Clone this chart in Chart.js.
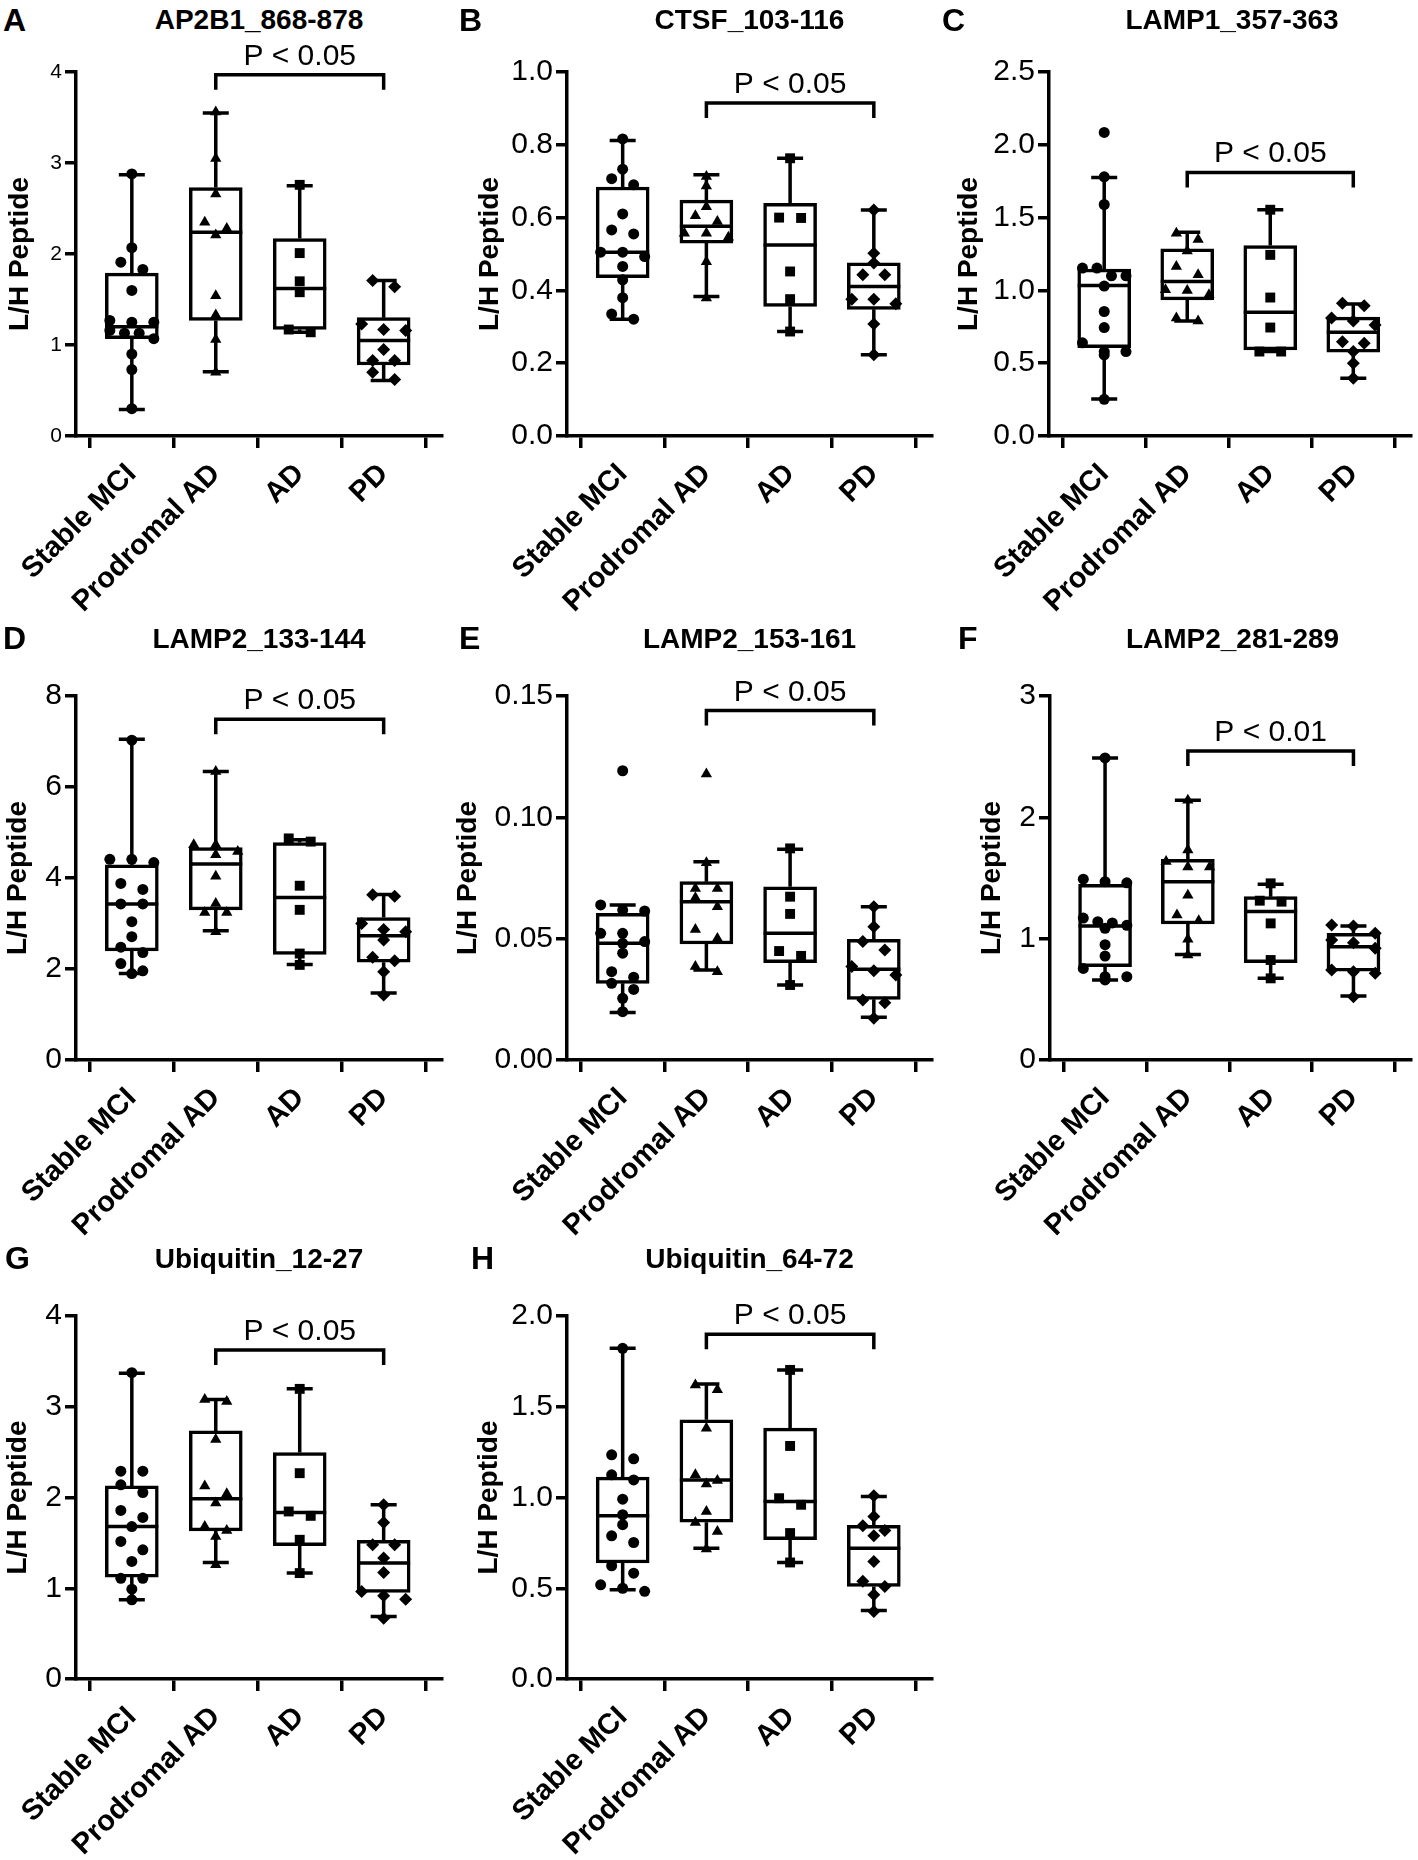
<!DOCTYPE html>
<html lang="en">
<head>
<meta charset="UTF-8">
<title>L/H Peptide ratios by diagnosis</title>
<script src="https://cdn.jsdelivr.net/npm/chart.js@4.4.0/dist/chart.umd.min.js"></script>
<style>
    * { margin: 0; padding: 0; box-sizing: border-box; }
    body { background: #fff; font-family: "Liberation Sans", Arial, sans-serif; color: #000; }
    #figure { position: relative; width: 1418px; height: 1860px; overflow: hidden; background: #fff; }
    .panel-canvas { position: absolute; }
    .panel-letter { position: absolute; font-size: 32px; font-weight: bold; line-height: 1.2; }
    .panel-title { position: absolute; font-size: 28px; font-weight: bold; line-height: 1.2; text-align: center; white-space: nowrap; }
</style>
</head>
<body>
<div id="figure"></div>

<script>
    // ---- Data ----
    const groupLabels = ['Stable MCI', 'Prodromal AD', 'AD', 'PD'];
    const panelLetters = ['A', 'B', 'C', 'D', 'E', 'F', 'G', 'H'];
    const panelTitles = ['AP2B1_868-878', 'CTSF_103-116', 'LAMP1_357-363', 'LAMP2_133-144',
        'LAMP2_153-161', 'LAMP2_281-289', 'Ubiquitin_12-27', 'Ubiquitin_64-72'];
    const yMax = [4, 1.0, 2.5, 8, 0.15, 3, 4, 2.0];
    const yStep = [1, 0.2, 0.5, 2, 0.05, 1, 1, 0.5];
    const yDecimals = [0, 1, 1, 0, 2, 0, 0, 1];
    const pTexts = ['P < 0.05', 'P < 0.05', 'P < 0.05', 'P < 0.05', 'P < 0.05', 'P < 0.01', 'P < 0.05', 'P < 0.05'];
    const bracketY = [3.97, 0.915, 1.81, 7.49, 0.144, 2.547, 3.626, 1.899];
    const bracketFrom = 1;   // Prodromal AD
    const bracketTo = 3;     // PD

    // points per group: Stable MCI, Prodromal AD, AD, PD
    const ap2b1Points = [
        [2.88, 2.07, 1.91, 1.83, 1.60, 1.27, 1.25, 1.25, 1.16, 1.13, 1.13, 1.07, 0.90, 0.73, 0.30],
        [3.56, 3.05, 2.66, 2.35, 2.28, 2.21, 1.54, 1.33, 1.06, 0.70],
        [2.76, 2.01, 1.70, 1.58, 1.17, 1.14],
        [1.71, 1.64, 1.23, 1.17, 1.16, 0.95, 0.83, 0.83, 0.70, 0.62]
    ];
    const ctsfPoints = [
        [0.816, 0.733, 0.707, 0.69, 0.61, 0.566, 0.555, 0.505, 0.505, 0.493, 0.466, 0.429, 0.38, 0.335, 0.321],
        [0.713, 0.687, 0.63, 0.605, 0.589, 0.557, 0.557, 0.546, 0.479, 0.379],
        [0.763, 0.60, 0.599, 0.452, 0.376, 0.287],
        [0.621, 0.502, 0.475, 0.443, 0.443, 0.376, 0.376, 0.363, 0.308, 0.223]
    ];
    const lamp1Points = [
        [2.085, 1.78, 1.59, 1.153, 1.153, 1.10, 1.10, 1.03, 0.855, 0.745, 0.64, 0.58, 0.58, 0.557, 0.252],
        [1.393, 1.35, 1.27, 1.164, 1.107, 1.004, 1.0, 0.97, 0.81, 0.79],
        [1.554, 1.244, 0.951, 0.745, 0.58, 0.58],
        [0.912, 0.894, 0.81, 0.79, 0.763, 0.648, 0.637, 0.58, 0.50, 0.396]
    ];
    const lamp2aPoints = [
        [7.03, 4.41, 4.41, 4.34, 3.88, 3.75, 3.43, 3.43, 3.04, 2.71, 2.48, 2.36, 2.12, 1.96, 1.90],
        [6.34, 4.73, 4.73, 4.58, 4.51, 4.04, 3.44, 3.24, 3.24, 2.82],
        [4.87, 4.80, 3.83, 3.30, 2.34, 2.09],
        [3.63, 3.60, 3.0, 2.87, 2.82, 2.64, 2.26, 2.18, 1.94, 1.43]
    ];
    const lamp2bPoints = [
        [0.1192, 0.0639, 0.0618, 0.0614, 0.0522, 0.0522, 0.0488, 0.0481, 0.044, 0.0364, 0.0341, 0.0316, 0.0291, 0.0254, 0.0199],
        [0.1179, 0.0813, 0.0707, 0.0707, 0.0669, 0.0632, 0.0538, 0.0501, 0.0385, 0.0364],
        [0.0872, 0.0673, 0.0602, 0.0449, 0.0429, 0.0309],
        [0.0632, 0.0549, 0.0488, 0.0453, 0.0385, 0.0368, 0.035, 0.0247, 0.0236, 0.0172]
    ];
    const lamp2cPoints = [
        [2.49, 1.49, 1.47, 1.46, 1.17, 1.14, 1.13, 1.11, 1.085, 0.95, 0.857, 0.755, 0.687, 0.687, 0.66],
        [2.14, 1.73, 1.635, 1.59, 1.59, 1.357, 1.195, 1.148, 0.995, 0.865],
        [1.456, 1.313, 1.305, 1.126, 0.824, 0.673],
        [1.113, 1.104, 1.044, 0.989, 0.967, 0.92, 0.742, 0.728, 0.714, 0.522]
    ];
    const ubiqAPoints = [
        [3.376, 2.29, 2.29, 2.14, 2.055, 1.857, 1.78, 1.68, 1.516, 1.424, 1.295, 1.11, 1.11, 0.99, 0.873],
        [3.08, 3.057, 2.64, 2.128, 2.04, 1.94, 1.68, 1.637, 1.57, 1.26],
        [3.197, 2.268, 1.846, 1.798, 1.534, 1.167],
        [1.919, 1.725, 1.479, 1.479, 1.332, 1.174, 0.965, 0.917, 0.88, 0.67]
    ];
    const ubiqBPoints = [
        [1.822, 1.235, 1.213, 1.125, 1.097, 0.991, 0.905, 0.85, 0.789, 0.752, 0.624, 0.583, 0.519, 0.50, 0.483],
        [1.62, 1.593, 1.382, 1.125, 1.094, 1.075, 0.923, 0.862, 0.813, 0.716],
        [1.703, 1.284, 0.996, 0.96, 0.804, 0.642],
        [1.009, 0.895, 0.844, 0.818, 0.789, 0.648, 0.538, 0.51, 0.464, 0.372]
    ];

    // box stats per group: [whisker low, Q1, median, Q3, whisker high]
    const ap2b1Boxes = [[0.29, 1.07, 1.20, 1.79, 2.87], [0.705, 1.27, 2.24, 2.73, 3.55], [1.14, 1.17, 1.62, 2.17, 2.75], [0.61, 0.78, 1.05, 1.30, 1.71]];
    const ctsfBoxes = [[0.321, 0.435, 0.505, 0.684, 0.812], [0.383, 0.53, 0.576, 0.648, 0.718], [0.287, 0.356, 0.525, 0.639, 0.763], [0.223, 0.348, 0.411, 0.476, 0.621]];
    const lamp1Boxes = [[0.254, 0.607, 1.033, 1.146, 1.776], [0.79, 0.935, 1.061, 1.285, 1.40], [0.58, 0.591, 0.85, 1.308, 1.554], [0.396, 0.575, 0.713, 0.816, 0.907]];
    const lamp2aBoxes = [[1.90, 2.40, 3.43, 4.29, 7.05], [2.84, 3.30, 4.31, 4.67, 6.34], [2.10, 2.32, 3.57, 4.78, 4.84], [1.47, 2.15, 2.73, 3.13, 3.64]];
    const lamp2bBoxes = [[0.0196, 0.0316, 0.0481, 0.0604, 0.0639], [0.0371, 0.0478, 0.0652, 0.0735, 0.0817], [0.0309, 0.0401, 0.0522, 0.0714, 0.0868], [0.0176, 0.025, 0.0374, 0.0497, 0.0632]];
    const lamp2cBoxes = [[0.66, 0.769, 1.104, 1.448, 2.49], [0.87, 1.121, 1.47, 1.654, 2.14], [0.673, 0.802, 1.223, 1.346, 1.448], [0.527, 0.733, 0.934, 1.044, 1.104]];
    const ubiqABoxes = [[0.873, 1.123, 1.68, 2.128, 3.37], [1.284, 1.633, 1.985, 2.734, 3.08], [1.167, 1.468, 1.835, 2.495, 3.197], [0.69, 0.954, 1.277, 1.527, 1.919]];
    const ubiqBBoxes = [[0.492, 0.639, 0.899, 1.112, 1.822], [0.721, 0.864, 1.097, 1.428, 1.626], [0.642, 0.767, 0.978, 1.382, 1.703], [0.378, 0.51, 0.721, 0.846, 1.006]];

    const panelPoints = [ap2b1Points, ctsfPoints, lamp1Points, lamp2aPoints, lamp2bPoints, lamp2cPoints, ubiqAPoints, ubiqBPoints];
    const panelBoxes = [ap2b1Boxes, ctsfBoxes, lamp1Boxes, lamp2aBoxes, lamp2bBoxes, lamp2cBoxes, ubiqABoxes, ubiqBBoxes];

    // ---- Layout (page pixels) ----
    const FONT = '"Liberation Sans", Arial, sans-serif';
    const X_MIN = -0.665, X_MAX = 3.695;
    const BOX_WIDTH = 53, CAP_WIDTH = 26, LINE = 3.5;
    const markerStyles = ['circle', 'triangle', 'rect', 'rectRot'];
    const markerRadius = [5.5, 6.5, 7, 6.5];

    // area = [left, top, right, bottom] of the plot area
    const layoutBoxes = [
        { cellX: 0, cellY: 0, cellR: 470, area: [76, 72, 442, 436], yTitleX: 20, letterX: 3, tickSize: 21 },
        { cellX: 470, cellY: 0, cellR: 950, area: [567, 72, 932, 436], yTitleX: 490, letterX: 459, tickSize: 30 },
        { cellX: 950, cellY: 0, cellR: 1418, area: [1049, 72, 1415, 436], yTitleX: 969, letterX: 942, tickSize: 30 },
        { cellX: 0, cellY: 620, cellR: 470, area: [76, 696, 442, 1060], yTitleX: 18, letterX: 3, tickSize: 30 },
        { cellX: 470, cellY: 620, cellR: 950, area: [567, 696, 932, 1060], yTitleX: 468, letterX: 459, tickSize: 30 },
        { cellX: 950, cellY: 620, cellR: 1418, area: [1050, 696, 1415, 1060], yTitleX: 992, letterX: 958, tickSize: 30 },
        { cellX: 0, cellY: 1240, cellR: 470, area: [76, 1316, 442, 1679], yTitleX: 18, letterX: 5, tickSize: 30 },
        { cellX: 470, cellY: 1240, cellR: 950, area: [567, 1316, 932, 1679], yTitleX: 489, letterX: 471, tickSize: 30 }
    ];

    Chart.defaults.font.family = FONT;
    Chart.defaults.color = '#000';
    Chart.defaults.animation = false;

    // Spread points sideways within rows of similar value (GraphPad-like scatter)
    function swarm(values, group, pxPerY, pxPerX) {
        const sorted = values.slice().sort((a, b) => b - a);
        const rows = [];
        sorted.forEach(v => {
            const row = rows[rows.length - 1];
            if (row && (row[0] - v) * pxPerY < 9) row.push(v);
            else rows.push([v]);
        });
        const out = [];
        rows.forEach(row => {
            const n = row.length;
            const step = n > 1 ? Math.min(22, 44 / (n - 1)) : 0;
            row.forEach((v, k) => {
                out.push({ x: group + ((k - (n - 1) / 2) * step) / pxPerX, y: v });
            });
        });
        return out;
    }

    // Whiskers, caps and median, drawn right after the box bars
    const boxPlugin = {
        id: 'boxWhiskers',
        afterDatasetDraw(chart, args) {
            const ds = chart.data.datasets[args.index];
            if (!ds.boxStats) return;
            const { ctx, scales: { x, y } } = chart;
            ctx.save();
            ctx.strokeStyle = '#000';
            ctx.lineWidth = LINE;
            ds.boxStats.forEach((b, i) => {
                const cx = x.getPixelForValue(i);
                const [lo, q1, med, q3, hi] = b.map(v => y.getPixelForValue(v));
                ctx.beginPath();
                ctx.moveTo(cx, q3); ctx.lineTo(cx, hi);
                ctx.moveTo(cx - CAP_WIDTH / 2, hi); ctx.lineTo(cx + CAP_WIDTH / 2, hi);
                ctx.moveTo(cx, q1); ctx.lineTo(cx, lo);
                ctx.moveTo(cx - CAP_WIDTH / 2, lo); ctx.lineTo(cx + CAP_WIDTH / 2, lo);
                ctx.moveTo(cx - BOX_WIDTH / 2, med); ctx.lineTo(cx + BOX_WIDTH / 2, med);
                ctx.stroke();
            });
            ctx.restore();
        }
    };

    // Significance bracket with its P label
    const bracketPlugin = {
        id: 'pBracket',
        afterDraw(chart, args, opts) {
            if (!opts.text) return;
            const { ctx, scales: { x, y } } = chart;
            const x1 = x.getPixelForValue(opts.from);
            const x2 = x.getPixelForValue(opts.to);
            const yb = y.getPixelForValue(opts.value);
            ctx.save();
            ctx.strokeStyle = '#000';
            ctx.lineWidth = LINE;
            ctx.lineJoin = 'miter';
            ctx.beginPath();
            ctx.moveTo(x1, yb + 15);
            ctx.lineTo(x1, yb);
            ctx.lineTo(x2, yb);
            ctx.lineTo(x2, yb + 15);
            ctx.stroke();
            ctx.fillStyle = '#000';
            ctx.font = '30px ' + FONT;
            ctx.textAlign = 'center';
            ctx.textBaseline = 'alphabetic';
            ctx.fillText(opts.text, (x1 + x2) / 2, yb - 10);
            ctx.restore();
        }
    };

    function buildPanel(p) {
        const fig = document.getElementById('figure');
        const lay = layoutBoxes[p];
        const [aL, aT, aR, aB] = lay.area;

        // letter + title as HTML text
        const letter = document.createElement('div');
        letter.className = 'panel-letter';
        letter.textContent = panelLetters[p];
        letter.style.left = lay.letterX + 'px';
        letter.style.top = (lay.cellY + (p < 3 ? 20 : 18) - 0.5885 * 32) + 'px';
        fig.appendChild(letter);

        const title = document.createElement('div');
        title.className = 'panel-title';
        title.textContent = panelTitles[p];
        title.style.left = aL + 'px';
        title.style.width = (aR - aL) + 'px';
        title.style.top = (lay.cellY + (p < 3 ? 19 : 18) - 0.5885 * 28) + 'px';
        fig.appendChild(title);

        // canvas covering the panel cell
        const left = Math.round(lay.yTitleX - 16.8);
        const top = lay.cellY;
        const width = lay.cellR - left;
        const height = 620;
        const canvas = document.createElement('canvas');
        canvas.className = 'panel-canvas';
        canvas.width = width;
        canvas.height = height;
        canvas.style.left = left + 'px';
        canvas.style.top = top + 'px';
        canvas.style.width = width + 'px';
        canvas.style.height = height + 'px';
        fig.appendChild(canvas);

        const yAxisWidth = aL - left;
        const xAxisHeight = top + height - aB;
        const pxPerY = (aB - aT) / yMax[p];
        const pxPerX = (aR - aL) / (X_MAX - X_MIN);

        const boxes = panelBoxes[p];
        const datasets = panelPoints[p].map((vals, g) => ({
            type: 'scatter',
            data: swarm(vals, g, pxPerY, pxPerX),
            pointStyle: markerStyles[g],
            pointRadius: markerRadius[g],
            pointBackgroundColor: '#000',
            pointBorderWidth: 0,
            order: 1
        }));
        datasets.push({
            type: 'bar',
            data: boxes.map((b, g) => ({ x: g, y: [b[1], b[3]] })),
            boxStats: boxes,
            backgroundColor: '#fff',
            borderColor: '#000',
            borderWidth: LINE,
            borderSkipped: false,
            barThickness: BOX_WIDTH,
            order: 2
        });

        const axisLine = { display: true, color: '#000', width: LINE };

        new Chart(canvas, {
            type: 'bar',
            data: { datasets },
            options: {
                responsive: false,
                devicePixelRatio: 1,
                layout: { padding: { left: 0, top: aT - top, right: left + width - aR, bottom: 0 } },
                plugins: {
                    legend: { display: false },
                    tooltip: { enabled: false },
                    pBracket: { text: pTexts[p], value: bracketY[p], from: bracketFrom, to: bracketTo }
                },
                scales: {
                    x: {
                        type: 'linear',
                        min: X_MIN,
                        max: X_MAX,
                        offset: false,
                        afterBuildTicks: s => { s.ticks = groupLabels.map((_, i) => ({ value: i })); },
                        afterFit: s => { s.height = xAxisHeight; s.paddingLeft = 0; s.paddingRight = 0; },
                        ticks: {
                            autoSkip: false,
                            minRotation: 45,
                            maxRotation: 45,
                            padding: 9,
                            color: '#000',
                            font: { size: 29, weight: 'bold' },
                            callback: v => groupLabels[v]
                        },
                        grid: { drawOnChartArea: false, drawTicks: true, tickLength: 12, color: '#000', lineWidth: LINE },
                        border: axisLine
                    },
                    y: {
                        min: 0,
                        max: yMax[p],
                        afterFit: s => { s.width = yAxisWidth; s.paddingTop = 0; s.paddingBottom = 0; },
                        ticks: {
                            stepSize: yStep[p],
                            padding: 3,
                            color: '#000',
                            font: { size: lay.tickSize },
                            callback: v => v.toFixed(yDecimals[p])
                        },
                        grid: { drawOnChartArea: false, drawTicks: true, tickLength: 11, color: '#000', lineWidth: LINE },
                        border: axisLine,
                        title: { display: true, text: 'L/H Peptide', color: '#000', padding: 0, font: { size: 28, weight: 'bold' } }
                    }
                }
            },
            plugins: [boxPlugin, bracketPlugin]
        });
    }

    document.addEventListener('DOMContentLoaded', () => {
        for (let p = 0; p < panelTitles.length; p++) buildPanel(p);
    });
</script>
</body>
</html>
